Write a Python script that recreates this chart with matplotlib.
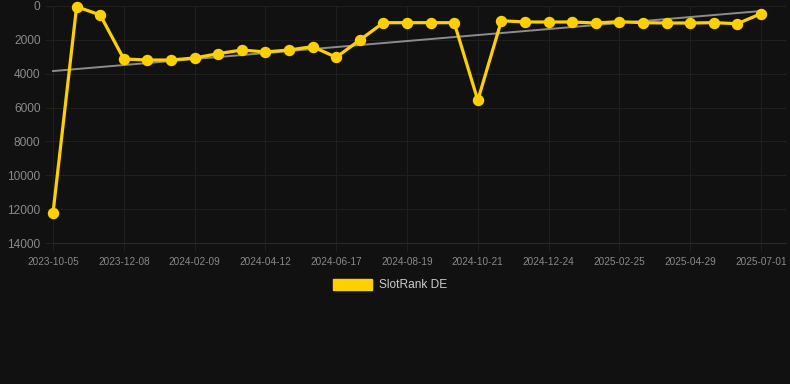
import numpy as np
import matplotlib
matplotlib.use('Agg')
import matplotlib.pyplot as plt

# SlotRank DE over time (lower rank number = better, axis reversed)
dates = ['2023-10-05', '2023-10-26', '2023-11-16', '2023-12-08', '2023-12-29',
         '2024-01-19', '2024-02-09', '2024-03-01', '2024-03-22', '2024-04-12',
         '2024-05-04', '2024-05-26', '2024-06-17', '2024-07-08', '2024-07-29',
         '2024-08-19', '2024-09-09', '2024-09-30', '2024-10-21', '2024-11-11',
         '2024-12-03', '2024-12-24', '2025-01-14', '2025-02-04', '2025-02-25',
         '2025-03-18', '2025-04-08', '2025-04-29', '2025-05-20', '2025-06-10',
         '2025-07-01']
ranks = [12230, 40, 530, 3130, 3190, 3190, 3070, 2815, 2600, 2715,
         2600, 2400, 3030, 2010, 985, 985, 985, 985, 5570, 870,
         945, 945, 945, 1005, 925, 985, 1005, 1005, 985, 1045,
         455]

bg = '#111111'
gold = '#FFD000'
grid_col = '#1f1f1f'
tick_col = '#8a8a8a'

x = np.arange(len(dates))

fig = plt.figure(figsize=(7.9, 3.84), dpi=100, facecolor=bg)
ax = fig.add_axes([53 / 790, 141 / 384, 733 / 790, 237 / 384], facecolor=bg)

# trend line (least squares over the series)
k, b = np.polyfit(x, ranks, 1)
ax.plot(x, k * x + b, color='#8c8c8c', lw=1.4, zorder=2, clip_on=False)

ax.plot(x, ranks, color=gold, lw=2.3, marker='o', markersize=7.2,
        markerfacecolor=gold, markeredgecolor=gold, zorder=3, clip_on=False)

ax.set_xlim(0, (len(dates) - 1) * 733 / 708)
ax.set_ylim(14000, 0)
ax.set_yticks(np.arange(0, 14001, 2000))
ax.set_yticklabels([str(v) for v in range(0, 14001, 2000)])
ax.set_xticks(x[::3])
ax.set_xticklabels(dates[::3])

ax.grid(True, color=grid_col, lw=0.8)
ax.set_axisbelow(True)
for s in ['top', 'right', 'left']:
    ax.spines[s].set_visible(False)
ax.spines['bottom'].set_color('#2a2a2a')

ax.tick_params(axis='y', colors=grid_col, length=6, pad=3, labelsize=8.6,
               labelcolor=tick_col, labelfontfamily='Liberation Sans')
ax.tick_params(axis='x', colors=grid_col, length=6, pad=4, labelsize=7.2,
               labelcolor=tick_col, labelfontfamily='Liberation Sans')

# legend
fig.patches.append(plt.Rectangle((333 / 790, 1 - 290 / 384), 39 / 790, 11 / 384,
                                 transform=fig.transFigure, color=gold))
fig.text(379 / 790, 1 - 285 / 384, 'SlotRank DE', color='#cccccc', fontsize=8.6,
         family='Liberation Sans', va='center', ha='left')

fig.savefig('out.png', dpi=100, facecolor=bg)
